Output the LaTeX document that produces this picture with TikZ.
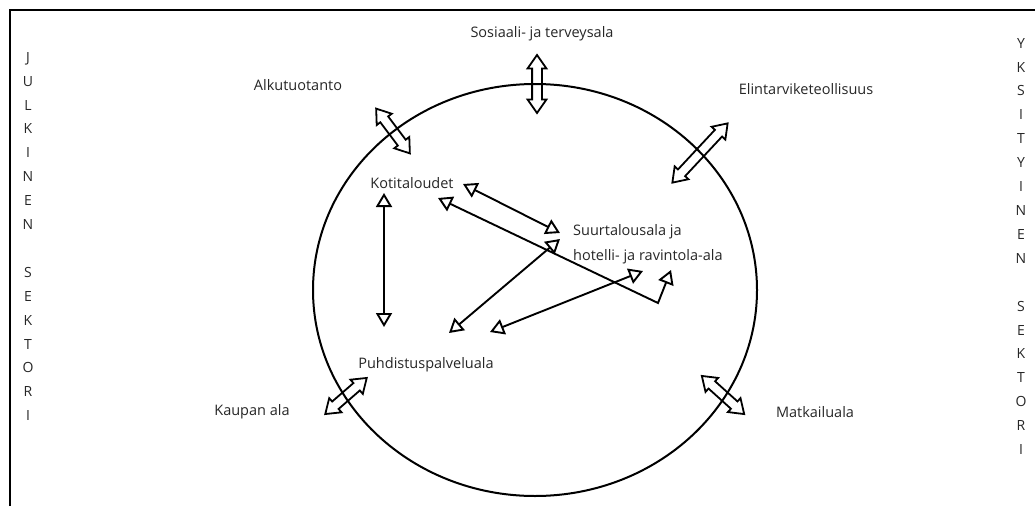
\documentclass[tikz,border=0pt]{standalone}
\usepackage{fontspec}
\setmainfont{Open Sans}
\usetikzlibrary{arrows.meta,shapes.arrows,shapes.geometric}

\tikzset{
  field/.style  = {font=\fontsize{14.5}{25}\selectfont, text=black!85,
                   inner sep=0pt, anchor=base},
  sector/.style = {font=\fontsize{14}{23.9}\selectfont, text=black!85,
                   inner sep=0pt, align=center, anchor=north},
  gate/.style   = {double arrow, draw, line width=1.8pt,
                   inner xsep=0pt, inner ysep=4pt,
                   double arrow head extend=4.5pt,
                   double arrow tip angle=70, minimum height=#1},
  flow/.style   = {line width=1.9pt,
                   {Triangle[open,length=14pt,width=16pt]}-{Triangle[open,length=14pt,width=16pt]}},
  ring/.style   = {ellipse, draw, line width=2pt, inner sep=0pt}
}

\begin{document}
\begin{tikzpicture}
  [
    x = 1pt,
    y = -1pt
  ]
  \useasboundingbox (0,0) rectangle (1035,506);
  \draw [line width=2.4pt] (10,506) -- (10,10) -- (1035,10);

  \node [sector] (julkinen) at (28,52)
    {J\\U\\L\\K\\I\\N\\E\\N\\[23.9pt]S\\E\\K\\T\\O\\R\\I};
  \node [sector] (yksityinen) at (1021,38)
    {Y\\K\\S\\I\\T\\Y\\I\\N\\E\\N\\[23.9pt]S\\E\\K\\T\\O\\R\\I};

  \node [ring, minimum width=444pt, minimum height=412pt] (ala) at (535,290) {};

  \node [field] (sosiaali) at (542,37) {Sosiaali- ja terveysala};
  \node [field] (alku)     at (298,90) {Alkutuotanto};
  \node [field] (elin)     at (806,94) {Elintarviketeollisuus};
  \node [field] (koti)     at (412,188) {Kotitaloudet};
  \node [field, anchor=north west, align=left] (suur) at (573,224)
    {Suurtalousala ja\\hotelli- ja ravintola-ala};
  \node [field] (puhd)     at (426,368) {Puhdistuspalveluala};
  \node [field] (kaupan)   at (252,415) {Kaupan ala};
  \node [field] (matk)     at (815,417) {Matkailuala};

  \node [gate=58, rotate=90]  (sos-gate)  at (537,84) {};
  \node [gate=56, rotate=-53] (alku-gate) at (393,131) {};
  \node [gate=81, rotate=47]  (elin-gate) at (700,153) {};
  \node [gate=55, rotate=41]  (kaup-gate) at (346,396) {};
  \node [gate=57, rotate=-42] (matk-gate) at (723,395) {};

  \coordinate (koti-s)  at (384,193);
  \coordinate (koti-e)  at (463,184);
  \coordinate (koti-se) at (438,198);
  \coordinate (suur-w)  at (560,233);
  \coordinate (suur-sw) at (560,239);
  \coordinate (suur-s)  at (643,271);
  \coordinate (suur-se) at (671,270);
  \coordinate (bend)    at (658,303);
  \coordinate (puhd-n)  at (384,327);
  \coordinate (puhd-ne) at (449,333);
  \coordinate (puhd-e)  at (490,332);

  \draw [flow] (koti-s) -- (puhd-n);
  \draw [flow] (koti-e) -- (suur-w);
  \draw [flow] (koti-se) -- (bend) -- (suur-se);
  \draw [flow] (suur-sw) -- (puhd-ne);
  \draw [flow] (suur-s) -- (puhd-e);
\end{tikzpicture}
\end{document}
